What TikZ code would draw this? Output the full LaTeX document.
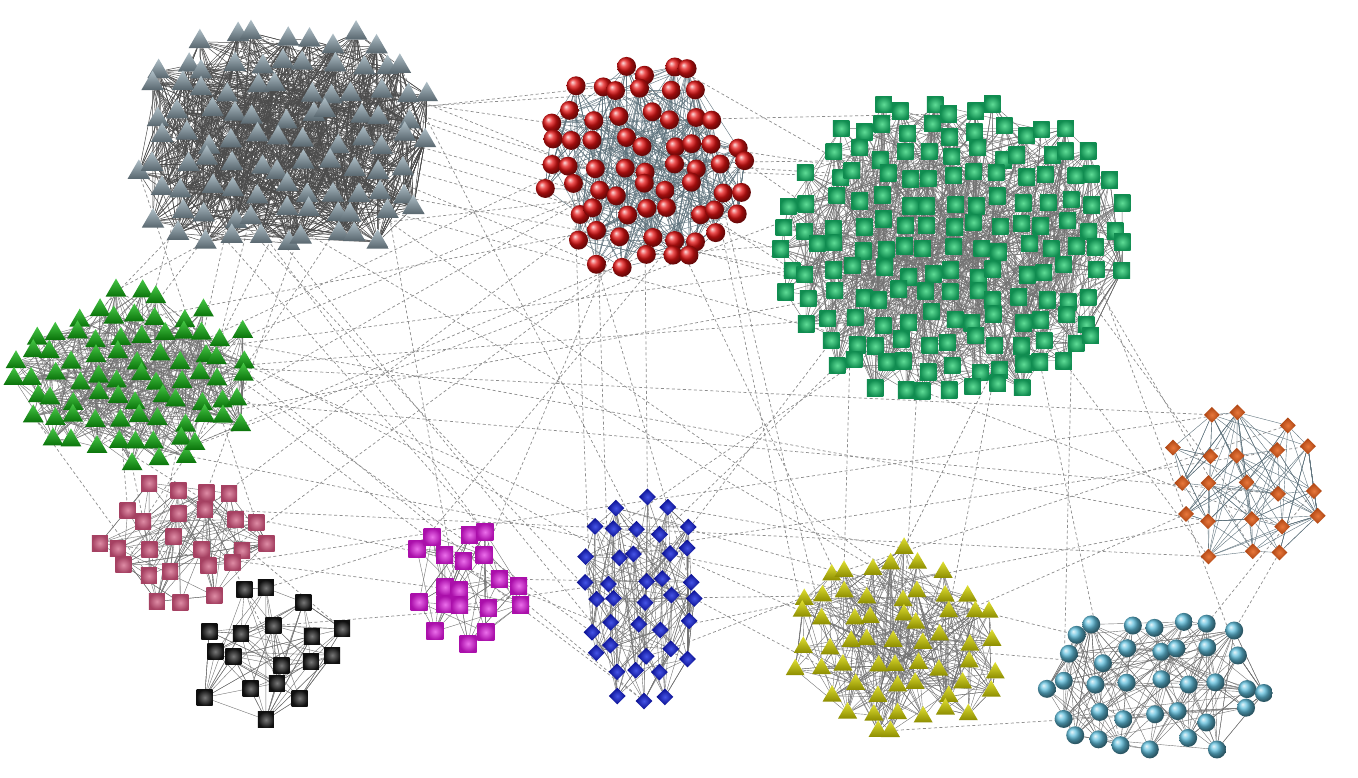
\documentclass[tikz,border=0pt]{standalone}
\usetikzlibrary{shapes.geometric,backgrounds}
\definecolor{gtA}{RGB}{176,192,200}
\definecolor{gtB}{RGB}{88,102,110}
\definecolor{rdC}{RGB}{228,18,18}
\definecolor{gsA}{RGB}{95,220,150}
\definecolor{gsB}{RGB}{16,140,80}
\definecolor{trA}{RGB}{70,200,70}
\definecolor{trB}{RGB}{10,115,10}
\definecolor{pkA}{RGB}{222,140,165}
\definecolor{pkB}{RGB}{165,65,98}
\definecolor{bkA}{RGB}{120,120,120}
\definecolor{bkB}{RGB}{15,15,15}
\definecolor{mgA}{RGB}{235,110,235}
\definecolor{mgB}{RGB}{170,15,170}
\definecolor{blA}{RGB}{70,85,230}
\definecolor{blB}{RGB}{5,10,140}
\definecolor{olA}{RGB}{225,225,50}
\definecolor{olB}{RGB}{140,140,0}
\definecolor{cyC}{RGB}{95,190,220}
\definecolor{orA}{RGB}{232,120,60}
\definecolor{orB}{RGB}{170,65,15}
\newcount\clcnt
% #1 name, #2 cx, #3 cy, #4 rx, #5 ry, #6 spacing, #7 exponent, #8 style
\newcommand\mkcl[8]{%
  \global\clcnt=0
  \pgfmathtruncatemacro\nxa{#4/#6+1}%
  \pgfmathtruncatemacro\nxb{-#4/#6-1}%
  \pgfmathtruncatemacro\nya{#5/#6+1}%
  \pgfmathtruncatemacro\nyb{-#5/#6-1}%
  \foreach \ii in {\nxb,...,\nxa}{%
    \foreach \jj in {\nyb,...,\nya}{%
      \pgfmathsetmacro\px{#2+\ii*#6+0.3*#6*rand}%
      \pgfmathsetmacro\py{#3+\jj*#6+0.3*#6*rand}%
      \pgfmathtruncatemacro\ok{(abs(\px-(#2))/#4+0.001)^#7+(abs(\py-(#3))/#5+0.001)^#7<=1}%
      \ifnum\ok=1
        \global\advance\clcnt by 1
        \edef\nname{#1\the\clcnt}%
        \node[#8] (\nname) at (\px,\py) {};
      \fi
    }%
  }%
  \expandafter\xdef\csname n#1\endcsname{\the\clcnt}%
}
% #1 name, #2 count, #3 local range, #4 style
\newcommand\mked[4]{%
  \edef\xnn{\csname n#1\endcsname}%
  \foreach \kk in {1,...,#2}{%
    \pgfmathrandominteger\ra{1}{\xnn}%
    \ifodd\kk
      \pgfmathrandominteger\rb{1}{\xnn}%
    \else
      \pgfmathrandominteger\rd{1}{#3}%
      \pgfmathtruncatemacro\rb{min(\ra+\rd,\xnn)}%
    \fi
    \ifnum\ra=\rb\else\draw[#4] (#1\ra) -- (#1\rb);\fi
  }%
}
% #1 cluster A, #2 cluster B, #3 count
\newcommand\xed[3]{%
  \edef\xna{\csname n#1\endcsname}\edef\xnb{\csname n#2\endcsname}%
  \foreach \kk in {1,...,#3}{%
    \pgfmathrandominteger\ra{1}{\xna}%
    \pgfmathrandominteger\rb{1}{\xnb}%
    \draw[xedge] (#1\ra) -- (#2\rb);
  }%
}
\begin{document}
\begin{tikzpicture}[x=1bp,y=-1bp,
  trinode/.style={regular polygon, regular polygon sides=3, inner sep=0pt, minimum size=#1},
  sqnode/.style={rectangle, inner sep=0pt, minimum size=#1},
  dianode/.style={diamond, inner sep=0pt, minimum size=#1},
  ballnode/.style={circle, inner sep=0pt, minimum size=#1},
  ngt/.style={trinode=26bp, top color=gtA, bottom color=gtB},
  nrd/.style={ballnode=19bp, ball color=rdC},
  ngs/.style={sqnode=16.5bp, inner color=gsA, outer color=gsB},
  ntr/.style={trinode=24bp, top color=trA, bottom color=trB},
  npk/.style={sqnode=16bp, inner color=pkA, outer color=pkB},
  nbk/.style={sqnode=16bp, inner color=bkA, outer color=bkB},
  nmg/.style={sqnode=17bp, inner color=mgA, outer color=mgB},
  nbl/.style={dianode=17bp, inner color=blA, outer color=blB},
  nol/.style={trinode=22bp, top color=olA, bottom color=olB},
  ncy/.style={ballnode=18bp, ball color=cyC},
  nor/.style={dianode=16bp, inner color=orA, outer color=orB},
  edark/.style={draw=black!70, line width=0.5bp},
  emid/.style={draw=black!55, line width=0.4bp},
  eblue/.style={draw={rgb,255:red,95;green,115;blue,125}, line width=0.4bp},
  xedge/.style={draw=black!45, line width=0.7bp, dash pattern=on 3bp off 2.5bp}
]
\useasboundingbox (0,0) rectangle (1358,777);
\pgfmathsetseed{12}
\mkcl{gt}{282}{140}{148}{120}{25}{3}{ngt}
\mkcl{rd}{646}{165}{108}{112}{24}{2}{nrd}
\mkcl{gs}{952}{248}{178}{156}{23.5}{2}{ngs}
\mkcl{tr}{138}{378}{126}{90}{21}{2}{ntr}
\mkcl{pk}{178}{543}{90}{64}{28}{2}{npk}
\mkcl{bk}{273}{660}{80}{76}{32}{2}{nbk}
\mkcl{mg}{465}{583}{60}{66}{27}{2}{nmg}
\mkcl{bl}{640}{602}{68}{120}{25}{2}{nbl}
\mkcl{ol}{897}{642}{110}{96}{24}{2}{nol}
\mkcl{cy}{1155}{685}{124}{79}{29}{2}{ncy}
\mkcl{or}{1245}{485}{92}{86}{33}{2}{nor}
\begin{pgfonlayer}{background}
\fill[white] (0,0) rectangle (1358,777);
\xed{gt}{rd}{9}
\xed{gt}{gs}{4}
\xed{gt}{tr}{6}
\xed{gt}{pk}{4}
\xed{gt}{mg}{3}
\xed{gt}{bl}{3}
\xed{gt}{ol}{2}
\xed{rd}{gs}{9}
\xed{rd}{tr}{5}
\xed{rd}{bl}{4}
\xed{rd}{ol}{3}
\xed{rd}{mg}{2}
\xed{rd}{pk}{2}
\xed{gs}{or}{4}
\xed{gs}{ol}{4}
\xed{gs}{cy}{3}
\xed{gs}{bl}{3}
\xed{gs}{tr}{4}
\xed{tr}{pk}{4}
\xed{tr}{bl}{3}
\xed{tr}{ol}{3}
\xed{tr}{or}{3}
\xed{pk}{bk}{2}
\xed{pk}{mg}{2}
\xed{bk}{mg}{2}
\xed{mg}{bl}{3}
\xed{bl}{ol}{4}
\xed{ol}{cy}{3}
\xed{or}{cy}{2}
\xed{or}{ol}{2}
\xed{bl}{or}{2}
\xed{pk}{or}{2}
\mked{gt}{1300}{15}{edark}
\mked{rd}{550}{12}{eblue}
\mked{gs}{1200}{18}{emid}
\mked{tr}{600}{12}{emid}
\mked{pk}{140}{7}{emid}
\mked{bk}{110}{6}{emid}
\mked{mg}{80}{6}{emid}
\mked{bl}{220}{10}{emid}
\mked{ol}{380}{12}{emid}
\mked{cy}{220}{8}{emid}
\mked{or}{130}{7}{eblue}
\end{pgfonlayer}
\end{tikzpicture}
\end{document}
